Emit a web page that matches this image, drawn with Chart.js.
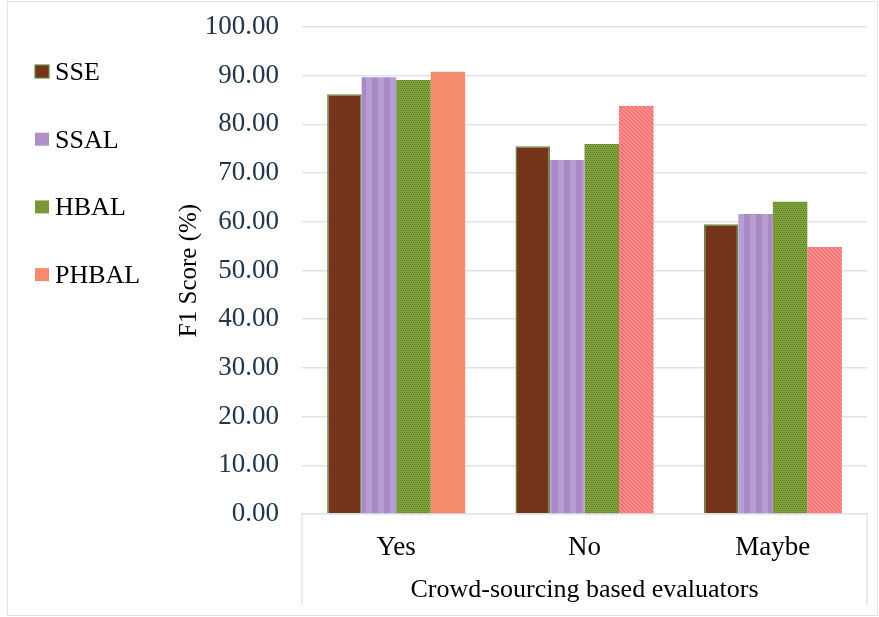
<!DOCTYPE html>
<html>
<head>
<meta charset="utf-8">
<script src="https://cdn.jsdelivr.net/npm/chart.js@4"></script>
<style>
  html, body { margin: 0; padding: 0; background: #fff; }
  #wrap { width: 879px; height: 617px; }
</style>
</head>
<body>
<div id="wrap"><canvas id="grafica" width="879" height="617"></canvas></div>
<script>
const categories = ["Yes", "No", "Maybe"];
const sse = [86.2, 75.5, 59.5];
const ssal = [89.7, 72.7, 61.6];
const hbal = [89.1, 76.0, 64.1];
const phbal = [90.8, 83.8, 54.8];
const yTicks = [0, 10, 20, 30, 40, 50, 60, 70, 80, 90, 100];

// little pattern tiles, like the office fills
const makePattern = (w, h, paint) => {
  const c = document.createElement('canvas');
  c.width = w; c.height = h;
  const g = c.getContext('2d');
  paint(g);
  return g.createPattern(c, 'repeat');
};
const ctx0 = document.getElementById('grafica').getContext('2d');

const lavender = makePattern(12, 4, g => {
  g.fillStyle = '#a98ac6'; g.fillRect(0, 0, 12, 4);
  g.fillStyle = '#b79ed1'; g.fillRect(6, 0, 6, 4);
});
const greenCheck = makePattern(4, 4, g => {
  g.fillStyle = '#70a83a'; g.fillRect(0, 0, 4, 4);
  g.fillStyle = '#8d6b32';
  g.fillRect(0, 0, 1, 1); g.fillRect(2, 0, 1, 1);
  g.fillRect(1, 2, 1, 1); g.fillRect(3, 2, 1, 1);
});
const redCheck = makePattern(8, 8, g => {
  g.fillStyle = '#f77575'; g.fillRect(0, 0, 8, 8);
  g.fillStyle = '#fba4a4';
  for (let i = 0; i < 8; i++) { g.fillRect(i, (i + 1) % 8, 1, 1); g.fillRect(i, (i + 5) % 8, 1, 1); }
});

const frame = {
  id: 'frame',
  afterDraw(chart) {
    const g = chart.ctx;
    const a = chart.chartArea;
    g.save();
    g.strokeStyle = '#dfe5ee';
    g.lineWidth = 1.5;
    g.beginPath();
    g.moveTo(a.left, a.bottom); g.lineTo(a.left, a.bottom + 91);
    g.moveTo(a.right, a.bottom); g.lineTo(a.right, a.bottom + 91);
    g.stroke();
    g.strokeStyle = '#e3e3e3';
    g.lineWidth = 1;
    g.strokeRect(7.5, 1.5, 870, 614);
    // legend on the left
    g.font = '26px "Liberation Serif"';
    g.textBaseline = 'middle';
    chart.data.datasets.forEach((ds, i) => {
      const y = 72 + i * 67.7;
      g.fillStyle = ds.legendColor;
      g.fillRect(35, y - 7, 14, 13);
      if (ds.borderWidth) {
        g.strokeStyle = ds.borderColor; g.lineWidth = 1.2;
        g.strokeRect(35, y - 7, 14, 13);
      }
      g.fillStyle = '#000';
      g.fillText(ds.label, 55, y + 1);
    });
    g.restore();
  }
};

const myChart = new Chart(ctx0, {
  type: 'bar',
  data: {
    labels: categories,
    datasets: [
      { label: 'SSE', data: sse, backgroundColor: '#76341a', legendColor: '#76341a', borderColor: '#5f8c45', borderWidth: 1.5 },
      { label: 'SSAL', data: ssal, backgroundColor: lavender, legendColor: '#ad90ca', borderWidth: 0 },
      { label: 'HBAL', data: hbal, backgroundColor: greenCheck, legendColor: '#7a983a', borderWidth: 0 },
      { label: 'PHBAL', data: phbal, backgroundColor: ['#f58a6c', redCheck, redCheck], legendColor: '#f58a6c', borderWidth: 0 },
    ],
  },
  options: {
    responsive: false,
    animation: false,
    layout: { padding: { left: 150, right: 12, top: 27, bottom: 0 } },
    plugins: {
      legend: { display: false },
      tooltip: { enabled: false },
    },
    datasets: { bar: { barPercentage: 1, categoryPercentage: 0.733 } },
    scales: {
      x: {
        afterFit: s => { s.height = 103; },
        grid: { display: false },
        border: { color: '#dfe5ee', width: 1.5 },
        ticks: { color: '#000', padding: 10, font: { family: 'Liberation Serif', size: 27 } },
        title: {
          display: true, text: 'Crowd-sourcing based evaluators', color: '#000',
          font: { family: 'Liberation Serif', size: 26 }, padding: { top: 0, bottom: 11 },
        },
      },
      y: {
        min: 0, max: 100,
        afterFit: s => { s.width = 152; s.paddingTop = 0; },
        afterBuildTicks: s => { s.ticks = yTicks.map(v => ({ value: v })); },
        border: { display: false },
        grid: { color: '#dde3ec', lineWidth: 1.5, drawTicks: false },
        ticks: {
          color: '#22364a', padding: 23,
          font: { family: 'Liberation Serif', size: 27 },
          callback: v => v.toFixed(2),
        },
        title: {
          display: true, text: 'F1 Score (%)', color: '#000',
          font: { family: 'Liberation Serif', size: 25 }, padding: { top: 24, bottom: 0 },
        },
      },
    },
  },
  plugins: [frame],
});
</script>
</body>
</html>
